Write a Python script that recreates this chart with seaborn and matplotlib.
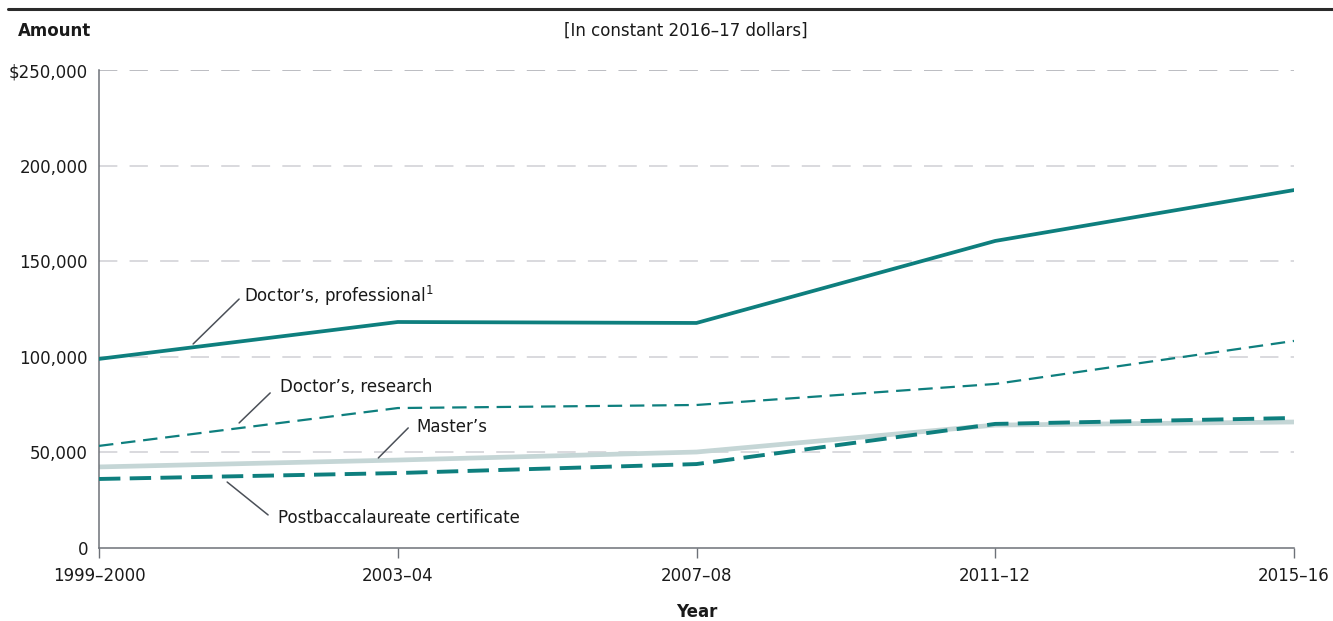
import numpy as np
import pandas as pd
import matplotlib
matplotlib.use("Agg")
import matplotlib.pyplot as plt
import seaborn as sns

# data
years = ["1999–2000", "2003–04", "2007–08", "2011–12", "2015–16"]
professional = [98900, 118200, 117700, 160600, 187200]
research = [53400, 73200, 74800, 85800, 108300]
masters = [42400, 46000, 50200, 64300, 65900]
postbacc = [36100, 39200, 43900, 64900, 68000]

teal = "#0e7f7e"
light = "#c5d6d6"
grey_txt = "#1a1a1a"
leader = "#4b5058"

sns.set_theme(style="white")
plt.rcParams["font.family"] = ["DejaVu Sans"]
fs = 12

fig = plt.figure(figsize=(13.33, 6.21), dpi=100)
ax = fig.add_axes([99 / 1333, 1 - 548 / 621, (1294 - 99) / 1333, (548 - 70) / 621])

df = pd.DataFrame({"year": years, "prof": professional, "res": research,
                   "mast": masters, "post": postbacc})

# grid first so the lines sit on top
for v in [50000, 100000, 150000, 200000, 250000]:
    ax.axhline(v, color="#a9abb2" if v == 250000 else "#cfd0d4", lw=1.1,
               linestyle=(0, (12, 8)), zorder=0)

sns.lineplot(data=df, x="year", y="mast", ax=ax, color=light, lw=3.4, zorder=2)
sns.lineplot(data=df, x="year", y="post", ax=ax, color=teal, lw=2.8,
             linestyle=(0, (5.5, 2.4)), zorder=3)
sns.lineplot(data=df, x="year", y="res", ax=ax, color=teal, lw=1.6,
             linestyle=(0, (6.5, 3.5)), zorder=3)
sns.lineplot(data=df, x="year", y="prof", ax=ax, color=teal, lw=2.7, zorder=3)

ax.set_xlim(0, 4)
ax.set_ylim(0, 250000)
ax.set_yticks([0, 50000, 100000, 150000, 200000, 250000])
ax.set_yticklabels(["0", "50,000", "100,000", "150,000", "200,000", "$250,000"])
ax.set_xticks(range(len(years)))
ax.set_xticklabels(years)
ax.set_xlabel("")
ax.set_ylabel("")

for s in ["top", "right"]:
    ax.spines[s].set_visible(False)
for s in ["left", "bottom"]:
    ax.spines[s].set_color("#6d7178")
    ax.spines[s].set_linewidth(1.1)

ax.tick_params(axis="x", length=7, width=1, color="#6d7178", direction="out",
               labelsize=fs, pad=7, labelcolor=grey_txt, bottom=True)
ax.tick_params(axis="y", length=0, labelsize=fs, pad=8, labelcolor=grey_txt)

# leader-line labels
def label(x0, y0, x1, y1, text, tx, ty):
    ax.plot([x0, x1], [y0, y1], color=leader, lw=1.1, zorder=4)
    ax.text(tx, ty, text, fontsize=fs, color=grey_txt, va="center", ha="left")

label(0.315, 106700, 0.469, 130200, "Doctor’s, professional$^{1}$", 0.486, 131800)
label(0.469, 65400, 0.573, 81100, "Doctor’s, research", 0.606, 84200)
label(0.935, 47100, 1.035, 62800, "Master’s", 1.062, 63300)
label(0.429, 34500, 0.566, 17300, "Postbaccalaureate certificate", 0.600, 15700)

# header texts and rule
fig.add_artist(plt.Line2D([8 / 1333, 1], [1 - 9 / 621, 1 - 9 / 621],
                          color="#2b2b2b", lw=2.2))
fig.text(18 / 1333, 1 - 31 / 621, "Amount", fontsize=fs, fontweight="bold",
         va="center", ha="left", color=grey_txt)
fig.text(686 / 1333, 1 - 31 / 621, "[In constant 2016–17 dollars]", fontsize=fs,
         va="center", ha="center", color=grey_txt)
fig.text(697 / 1333, 1 - 612 / 621, "Year", fontsize=fs, fontweight="bold",
         va="center", ha="center", color=grey_txt)

fig.savefig("out.png", dpi=100)
